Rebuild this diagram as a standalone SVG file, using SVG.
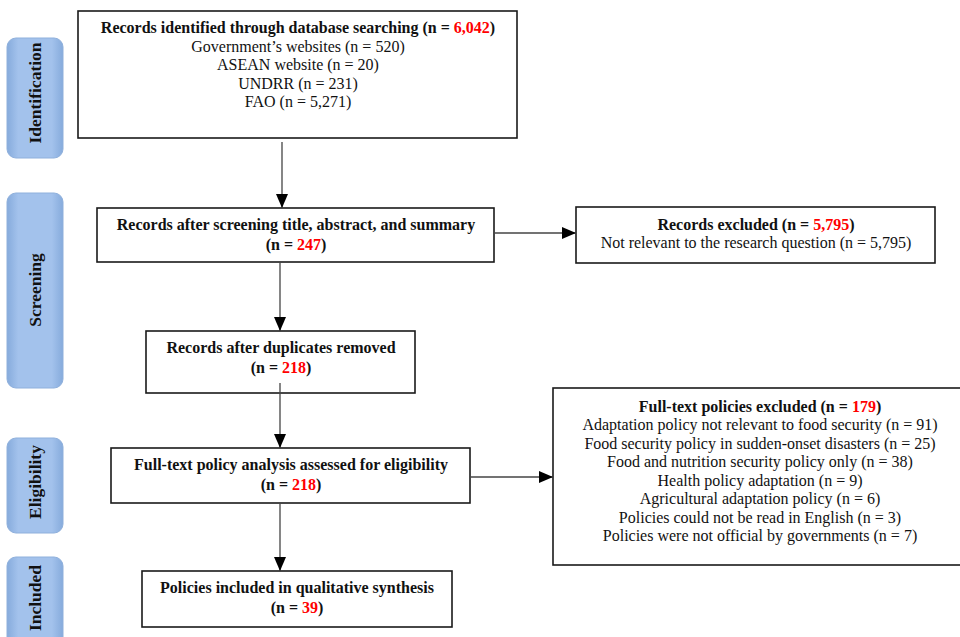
<svg xmlns="http://www.w3.org/2000/svg" width="960" height="637" viewBox="0 0 960 637">
<defs>
<linearGradient id="bar" x1="0" y1="0" x2="1" y2="0">
<stop offset="0" stop-color="#86abdc"/>
<stop offset="0.2" stop-color="#a3c2ec"/>
<stop offset="0.8" stop-color="#a3c2ec"/>
<stop offset="1" stop-color="#86abdc"/>
</linearGradient>
<marker id="ah" markerUnits="userSpaceOnUse" markerWidth="14" markerHeight="12" refX="14" refY="6" orient="auto">
<path d="M0,0 L14,6 L0,12 Z" fill="#000"/>
</marker>
</defs>
<style>
.bar{fill:url(#bar);stroke:#8fb0dc;stroke-width:1}
.barlbl{font-family:"Liberation Serif","Times New Roman",serif;font-weight:bold;font-size:17.5px;fill:#111;text-anchor:middle}
.box{fill:#fff;stroke:#1a1a1a;stroke-width:1.6}
.t{font-family:"Liberation Serif","Times New Roman",serif;font-size:16px;fill:#111;text-anchor:middle}
.b{font-weight:bold}
.r{fill:#ff0000}
.conn line{stroke:#444;stroke-width:1.3;marker-end:url(#ah)}
</style>
<rect width="960" height="637" fill="#fff"/>

<g id="stage-identification">
<rect class="bar" x="7" y="38" width="56" height="120" rx="9"/>
<text class="barlbl" transform="translate(41,93) rotate(-90)">Identification</text>
</g>
<g id="stage-screening">
<rect class="bar" x="7" y="193" width="56" height="195" rx="9"/>
<text class="barlbl" transform="translate(41,290) rotate(-90)">Screening</text>
</g>
<g id="stage-eligibility">
<rect class="bar" x="7" y="438" width="56" height="95" rx="9"/>
<text class="barlbl" transform="translate(41,482) rotate(-90)">Eligibility</text>
</g>
<g id="stage-included">
<rect class="bar" x="7" y="557" width="56" height="95" rx="9"/>
<text class="barlbl" transform="translate(41,598) rotate(-90)">Included</text>
</g>

<g id="node-identified">
<rect class="box" x="78" y="11" width="439" height="127"/>
<text class="t b" x="298" y="33">Records identified through database searching (n = <tspan class="r">6,042</tspan>)</text>
<text class="t" x="298" y="52">Government’s websites (n = 520)</text>
<text class="t" x="298" y="70">ASEAN website (n = 20)</text>
<text class="t" x="298" y="89">UNDRR (n = 231)</text>
<text class="t" x="298" y="107">FAO (n = 5,271)</text>
</g>

<g id="node-screened">
<rect class="box" x="97" y="208" width="397" height="54"/>
<text class="t b" x="296" y="230">Records after screening title, abstract, and summary</text>
<text class="t b" x="296" y="250">(n = <tspan class="r">247</tspan>)</text>
</g>

<g id="node-excluded1">
<rect class="box" x="576" y="207" width="359" height="56"/>
<text class="t b" x="756" y="230">Records excluded (n = <tspan class="r">5,795</tspan>)</text>
<text class="t" x="756" y="248">Not relevant to the research question (n = 5,795)</text>
</g>

<g id="node-duplicates">
<rect class="box" x="146" y="331" width="269" height="62"/>
<text class="t b" x="281" y="353">Records after duplicates removed</text>
<text class="t b" x="281" y="373">(n = <tspan class="r">218</tspan>)</text>
</g>

<g id="node-eligibility">
<rect class="box" x="111" y="448" width="359" height="55"/>
<text class="t b" x="291" y="470">Full-text policy analysis assessed for eligibility</text>
<text class="t b" x="291" y="490">(n = <tspan class="r">218</tspan>)</text>
</g>

<g id="node-excluded2">
<rect class="box" x="553" y="388" width="410" height="177"/>
<text class="t b" x="760" y="412">Full-text policies excluded (n = <tspan class="r">179</tspan>)</text>
<text class="t" x="760" y="430">Adaptation policy not relevant to food security (n = 91)</text>
<text class="t" x="760" y="449">Food security policy in sudden-onset disasters (n = 25)</text>
<text class="t" x="760" y="467">Food and nutrition security policy only (n = 38)</text>
<text class="t" x="760" y="486">Health policy adaptation (n = 9)</text>
<text class="t" x="760" y="504">Agricultural adaptation policy (n = 6)</text>
<text class="t" x="760" y="523">Policies could not be read in English (n = 3)</text>
<text class="t" x="760" y="541">Policies were not official by governments (n = 7)</text>
</g>

<g id="node-included">
<rect class="box" x="142" y="571" width="310" height="56"/>
<text class="t b" x="297" y="593">Policies included in qualitative synthesis</text>
<text class="t b" x="297" y="613">(n = <tspan class="r">39</tspan>)</text>
</g>

<g id="connectors" class="conn">
<line x1="282" y1="142" x2="282" y2="208"/>
<line x1="280" y1="262" x2="280" y2="331"/>
<line x1="494" y1="233" x2="576" y2="233"/>
<line x1="280" y1="383" x2="280" y2="448"/>
<line x1="470" y1="477" x2="553" y2="477"/>
<line x1="280" y1="503" x2="280" y2="571"/>
</g>
</svg>
